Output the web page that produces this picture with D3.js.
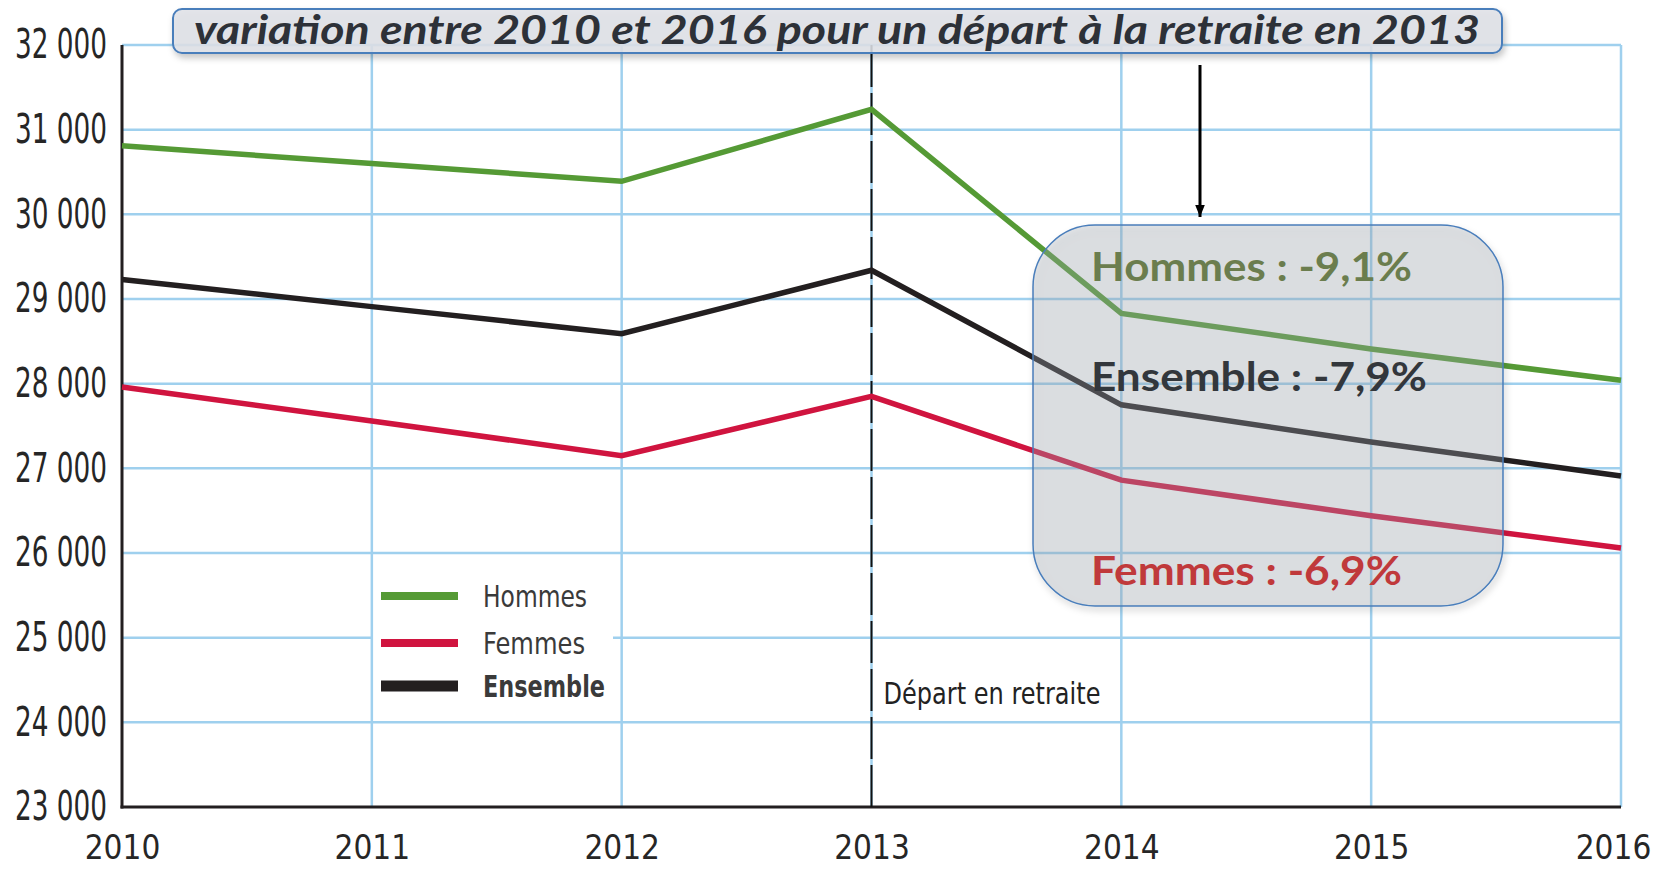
<!DOCTYPE html>
<html lang="fr">
<head>
<meta charset="UTF-8">
<title>Variation entre 2010 et 2016</title>
<script src="https://d3js.org/d3.v7.min.js"></script>
<style>
  body { margin: 0; background: #fff; }
  .grid line { stroke: #9fd0ee; stroke-width: 2.5; }
  .axis-y text, .axis-x text {
    font-family: "Liberation Sans Narrow", "DejaVu Sans Condensed", sans-serif;
    font-size: 40px;
    fill: #262626;
  }
  .axis-x text { font-size: 33px; }
  .axis-y path, .axis-x path { display: none; }
  .legend text {
    font-family: "Liberation Sans Narrow", "DejaVu Sans Condensed", sans-serif;
    font-size: 31px;
    fill: #3a3a3a;
  }
  .callout text {
    font-family: Lato, "Open Sans", sans-serif;
    font-weight: bold;
    font-size: 40px;
  }
</style>
</head>
<body>
<script>
// values
const years = [2010, 2011, 2012, 2013, 2014, 2015, 2016];
const hommes = [30810, 30600, 30390, 31240, 28830, 28410, 28040];
const femmes = [27960, 27560, 27150, 27850, 26860, 26440, 26060];
const ensemble = [29230, 28910, 28590, 29340, 27750, 27310, 26910];
const yTicks = [23000, 24000, 25000, 26000, 27000, 28000, 29000, 30000, 31000, 32000];
const seriesNames = ["Hommes", "Femmes", "Ensemble"];
const seriesColors = ["#559a35", "#d0143f", "#231f20"];
const variations = ["Hommes : -9,1%", "Ensemble : -7,9%", "Femmes : -6,9%"];
const titleText = "variation entre 2010 et 2016 pour un départ à la retraite en 2013";
const retraiteYear = 2013;

const W = 1658, H = 869;
const plotLeft = 122, plotRight = 1621, plotTop = 45, plotBottom = 807;

const fr = d3.formatLocale({ decimal: ",", thousands: " ", grouping: [3], currency: ["", " €"] });

const svg = d3.select("body").append("svg")
  .attr("width", W)
  .attr("height", H);

const defs = svg.append("defs");
const shadow = defs.append("filter").attr("id", "shadow")
  .attr("x", "-10%").attr("y", "-20%").attr("width", "120%").attr("height", "150%");
shadow.append("feDropShadow")
  .attr("dx", 2).attr("dy", 4).attr("stdDeviation", 3)
  .attr("flood-color", "#000").attr("flood-opacity", 0.25);
defs.append("marker")
  .attr("id", "arrow")
  .attr("viewBox", "0 0 10 10")
  .attr("refX", 10).attr("refY", 5)
  .attr("markerWidth", 4).attr("markerHeight", 4)
  .attr("orient", "auto")
  .append("path").attr("d", "M0,1 L10,5 L0,9 Z").attr("fill", "#000");

const x = d3.scaleLinear().domain([2010, 2016]).range([plotLeft, plotRight]);
const y = d3.scaleLinear().domain([23000, 32000]).range([plotBottom, plotTop]);

// horizontal grid
svg.append("g").attr("class", "grid")
  .selectAll("line").data(yTicks.slice(1)).join("line")
  .attr("x1", plotLeft).attr("x2", plotRight)
  .attr("y1", d => y(d)).attr("y2", d => y(d));

// legend background hides part of the grid
svg.append("rect")
  .attr("x", 373).attr("y", 571).attr("width", 240).attr("height", 135)
  .attr("fill", "#fff");

// vertical grid
svg.append("g").attr("class", "grid")
  .selectAll("line").data(years.slice(1)).join("line")
  .attr("x1", d => x(d)).attr("x2", d => x(d))
  .attr("y1", plotTop).attr("y2", plotBottom);

// axes
svg.append("g")
  .attr("class", "axis-y")
  .attr("transform", `translate(${plotLeft},0)`)
  .call(d3.axisLeft(y).tickValues(yTicks).tickSize(0).tickPadding(15).tickFormat(fr.format(",d")))
  .selectAll("text").attr("textLength", 92).attr("lengthAdjust", "spacingAndGlyphs");

svg.append("g")
  .attr("class", "axis-x")
  .attr("transform", `translate(0,${plotBottom})`)
  .call(d3.axisBottom(x).tickValues(years).tickSize(0).tickPadding(29).tickFormat(d3.format("d")))
  .selectAll("text")
  .attr("dx", d => d === 2016 ? -8 : 0);

svg.append("line")
  .attr("x1", plotLeft).attr("x2", plotLeft).attr("y1", plotTop).attr("y2", plotBottom + 1.5)
  .attr("stroke", "#231f20").attr("stroke-width", 3);
svg.append("line")
  .attr("x1", plotLeft - 1.5).attr("x2", plotRight).attr("y1", plotBottom).attr("y2", plotBottom)
  .attr("stroke", "#231f20").attr("stroke-width", 3);

// retirement marker
svg.append("line")
  .attr("x1", x(retraiteYear)).attr("x2", x(retraiteYear))
  .attr("y1", plotTop).attr("y2", plotBottom)
  .attr("stroke", "#111").attr("stroke-width", 2)
  .attr("stroke-dasharray", "42,6");
svg.append("text")
  .attr("x", x(retraiteYear) + 12).attr("y", 704)
  .attr("font-family", "'Liberation Sans Narrow', 'DejaVu Sans Condensed', sans-serif")
  .attr("font-size", 30).attr("fill", "#222")
  .attr("textLength", 217).attr("lengthAdjust", "spacingAndGlyphs")
  .text("Départ en retraite");

// data lines
const line = d3.line().x((d, i) => x(years[i])).y(d => y(d));
[hommes, femmes, ensemble].forEach((s, k) => {
  svg.append("path")
    .datum(s)
    .attr("d", line)
    .attr("fill", "none")
    .attr("stroke", seriesColors[k])
    .attr("stroke-width", 5.5)
    .attr("stroke-linejoin", "miter");
});

// callout box
const callout = svg.append("g").attr("class", "callout");
callout.append("rect")
  .attr("x", 1033).attr("y", 225).attr("width", 470).attr("height", 381)
  .attr("rx", 62).attr("ry", 62)
  .attr("fill", "#a2a9b2").attr("fill-opacity", 0.3)
  .attr("stroke", "#4a7ebb").attr("stroke-width", 1.5)
  .attr("filter", "url(#shadow)");
const calloutY = [281, 391, 585];
const calloutW = [321, 336, 311];
const calloutC = ["#6b7d4e", "#33373c", "#c0393b"];
callout.selectAll("text").data(variations).join("text")
  .attr("x", 1091)
  .attr("y", (d, i) => calloutY[i])
  .attr("fill", (d, i) => calloutC[i])
  .attr("textLength", (d, i) => calloutW[i])
  .attr("lengthAdjust", "spacingAndGlyphs")
  .text(d => d);

// arrow
svg.append("line")
  .attr("x1", 1200).attr("x2", 1200).attr("y1", 65).attr("y2", 217)
  .attr("stroke", "#000").attr("stroke-width", 3)
  .attr("marker-end", "url(#arrow)");

// title box
svg.append("rect")
  .attr("x", 173).attr("y", 9).attr("width", 1329).attr("height", 44)
  .attr("rx", 9).attr("ry", 9)
  .attr("fill", "#dfe2e7").attr("fill-opacity", 0.85)
  .attr("stroke", "#4a7ebb").attr("stroke-width", 2)
  .attr("filter", "url(#shadow)");
svg.append("text")
  .attr("x", 194).attr("y", 44)
  .attr("font-family", "Lato, 'Open Sans', sans-serif")
  .attr("font-weight", "bold").attr("font-style", "italic")
  .attr("font-size", 40).attr("fill", "#2d3138")
  .attr("textLength", 1286).attr("lengthAdjust", "spacingAndGlyphs")
  .text(titleText);

// legend
const legend = svg.append("g").attr("class", "legend");
const legendY = [596, 643, 686];
seriesNames.forEach((name, i) => {
  legend.append("line")
    .attr("x1", 381).attr("x2", 458)
    .attr("y1", legendY[i]).attr("y2", legendY[i])
    .attr("stroke", seriesColors[i]).attr("stroke-width", i === 2 ? 11 : 8);
  legend.append("text")
    .attr("x", 483).attr("y", legendY[i] + 11)
    .attr("font-weight", i === 2 ? "bold" : "normal")
    .attr("fill", i === 2 ? "#1a1a1a" : "#3a3a3a")
    .attr("textLength", i === 2 ? 122 : (i === 0 ? 104 : 102))
    .attr("lengthAdjust", "spacingAndGlyphs")
    .text(name);
});
</script>
</body>
</html>
